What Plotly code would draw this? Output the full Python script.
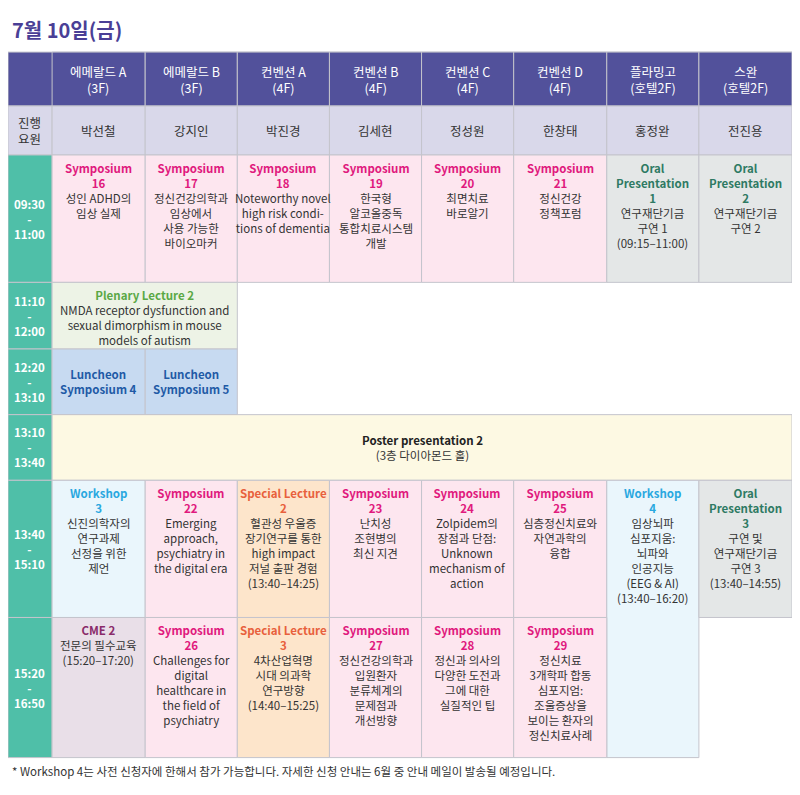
import plotly.graph_objects as go

# column / row edges in page pixels
col_edges = [0, 45, 140, 234, 328, 422, 516, 611, 705, 800]
row_edges = [45, 100, 150, 280, 348, 415, 482, 622, 765]

rooms = ["에메랄드 A<br>(3F)", "에메랄드 B<br>(3F)", "컨벤션 A<br>(4F)", "컨벤션 B<br>(4F)",
         "컨벤션 C<br>(4F)", "컨벤션 D<br>(4F)", "플라밍고<br>(호텔2F)", "스완<br>(호텔2F)"]
staff = ["박선철", "강지인", "박진경", "김세현", "정성원", "한창태", "홍정완", "전진용"]
times = ["09:30<br>-<br>11:00", "11:10<br>-<br>12:00", "12:20<br>-<br>13:10",
         "13:10<br>-<br>13:40", "13:40<br>-<br>15:10", "15:20<br>-<br>16:50"]

styles = {
    "sym": ("#fde6ef", "#e0197d"),
    "oral": ("#e4e7e7", "#2e7a63"),
    "plen": ("#edf3e6", "#5aa845"),
    "lunch": ("#c7daf1", "#1f5aa6"),
    "poster": ("#fdf9e3", "#222222"),
    "ws": ("#eaf6fc", "#29a8e0"),
    "sl": ("#fde5cb", "#e8603c"),
    "cme": ("#e9dfe8", "#8a2b6a"),
}

# (col0, col1, row0, row1, style, title, body)
sessions = [
    (1, 2, 2, 3, "sym", "Symposium<br>16", "성인 ADHD의<br>임상 실제"),
    (2, 3, 2, 3, "sym", "Symposium<br>17", "정신건강의학과<br>임상에서<br>사용 가능한<br>바이오마커"),
    (3, 4, 2, 3, "sym", "Symposium<br>18", "Noteworthy novel<br>high risk condi-<br>tions of dementia"),
    (4, 5, 2, 3, "sym", "Symposium<br>19", "한국형<br>알코올중독<br>통합치료시스템<br>개발"),
    (5, 6, 2, 3, "sym", "Symposium<br>20", "최면치료<br>바로알기"),
    (6, 7, 2, 3, "sym", "Symposium<br>21", "정신건강<br>정책포럼"),
    (7, 8, 2, 3, "oral", "Oral<br>Presentation<br>1", "연구재단기금<br>구연 1<br>(09:15–11:00)"),
    (8, 9, 2, 3, "oral", "Oral<br>Presentation<br>2", "연구재단기금<br>구연 2"),
    (1, 3, 3, 4, "plen", "Plenary Lecture 2", "NMDA receptor dysfunction and<br>sexual dimorphism in mouse<br>models of autism"),
    (1, 2, 4, 5, "lunch", "Luncheon<br>Symposium 4", ""),
    (2, 3, 4, 5, "lunch", "Luncheon<br>Symposium 5", ""),
    (1, 9, 5, 6, "poster", "Poster presentation 2", "(3층 다이아몬드 홀)"),
    (1, 2, 6, 7, "ws", "Workshop<br>3", "신진의학자의<br>연구과제<br>선정을 위한<br>제언"),
    (2, 3, 6, 7, "sym", "Symposium<br>22", "Emerging<br>approach,<br>psychiatry in<br>the digital era"),
    (3, 4, 6, 7, "sl", "Special Lecture<br>2", "혈관성 우울증<br>장기연구를 통한<br>high impact<br>저널 출판 경험<br>(13:40–14:25)"),
    (4, 5, 6, 7, "sym", "Symposium<br>23", "난치성<br>조현병의<br>최신 지견"),
    (5, 6, 6, 7, "sym", "Symposium<br>24", "Zolpidem의<br>장점과 단점:<br>Unknown<br>mechanism of<br>action"),
    (6, 7, 6, 7, "sym", "Symposium<br>25", "심층정신치료와<br>자연과학의<br>융합"),
    (7, 8, 6, 8, "ws", "Workshop<br>4", "임상뇌파<br>심포지움:<br>뇌파와<br>인공지능<br>(EEG & AI)<br>(13:40–16:20)"),
    (8, 9, 6, 7, "oral", "Oral<br>Presentation<br>3", "구연 및<br>연구재단기금<br>구연 3<br>(13:40–14:55)"),
    (1, 2, 7, 8, "cme", "CME 2", "전문의 필수교육<br>(15:20–17:20)"),
    (2, 3, 7, 8, "sym", "Symposium<br>26", "Challenges for<br>digital<br>healthcare in<br>the field of<br>psychiatry"),
    (3, 4, 7, 8, "sl", "Special Lecture<br>3", "4차산업혁명<br>시대 의과학<br>연구방향<br>(14:40–15:25)"),
    (4, 5, 7, 8, "sym", "Symposium<br>27", "정신건강의학과<br>입원환자<br>분류체계의<br>문제점과<br>개선방향"),
    (5, 6, 7, 8, "sym", "Symposium<br>28", "정신과 의사의<br>다양한 도전과<br>그에 대한<br>실질적인 팁"),
    (6, 7, 7, 8, "sym", "Symposium<br>29", "정신치료<br>3개학파 합동<br>심포지엄:<br>조울증상을<br>보이는 환자의<br>정신치료사례"),
]

FONT = "Noto Sans CJK KR"
fig = go.Figure()
shapes, ann = [], []

def rect(x0, x1, y0, y1, fill):
    shapes.append(dict(type="rect", xref="x", yref="y", x0=x0, x1=x1, y0=y0, y1=y1,
                       fillcolor=fill, line=dict(color="#c4c4cc", width=1), layer="below"))

# header row
rect(0, 800, row_edges[0], row_edges[1], "#52519b")
for i, r in enumerate(rooms):
    x0, x1 = col_edges[i + 1], col_edges[i + 2]
    rect(x0, x1, row_edges[0], row_edges[1], "#52519b")
    ann.append(dict(x=(x0 + x1) / 2, y=(row_edges[0] + row_edges[1]) / 2, text=r,
                    font=dict(color="white", size=12.5, family=FONT), showarrow=False))
# staff row
rect(0, 45, row_edges[1], row_edges[2], "#d9d8ea")
ann.append(dict(x=22, y=125, text="진행<br>요원", font=dict(color="#333", size=12.5, family=FONT), showarrow=False))
for i, s in enumerate(staff):
    x0, x1 = col_edges[i + 1], col_edges[i + 2]
    rect(x0, x1, row_edges[1], row_edges[2], "#d9d8ea")
    ann.append(dict(x=(x0 + x1) / 2, y=125, text=s, font=dict(color="#333", size=12.5, family=FONT), showarrow=False))
# time column
for j, t in enumerate(times):
    y0, y1 = row_edges[j + 2], row_edges[j + 3]
    rect(0, 45, y0, y1, "#4fbfa8")
    ann.append(dict(x=22, y=(y0 + y1) / 2, text="<b>" + t + "</b>",
                    font=dict(color="white", size=11.5, family=FONT), showarrow=False))
# sessions
for c0, c1, r0, r1, st, title, body in sessions:
    fill, tc = styles[st]
    x0, x1, y0, y1 = col_edges[c0], col_edges[c1], row_edges[r0], row_edges[r1]
    rect(x0, x1, y0, y1, fill)
    txt = "<b><span style='color:%s'>%s</span></b>" % (tc, title)
    if body:
        txt += "<br>" + body
    if st in ("lunch", "poster"):
        ann.append(dict(x=(x0 + x1) / 2, y=(y0 + y1) / 2, text=txt, showarrow=False,
                        font=dict(color="#333", size=11.5, family=FONT)))
    else:
        ann.append(dict(x=(x0 + x1) / 2, y=y0 + 3, yanchor="top", text=txt, showarrow=False,
                        font=dict(color="#333", size=11.5, family=FONT)))

ann.append(dict(x=2, y=22, xanchor="left", text="<b>7월 10일(금)</b>", showarrow=False,
                font=dict(color="#4a3f96", size=20, family=FONT)))
ann.append(dict(x=2, y=779, xanchor="left",
                text="* Workshop 4는 사전 신청자에 한해서 참가 가능합니다. 자세한 신청 안내는 6월 중 안내 메일이 발송될 예정입니다.",
                showarrow=False, font=dict(color="#333", size=11.5, family=FONT)))

fig.add_trace(go.Scatter(x=[0, 800], y=[0, 795], mode="markers", marker=dict(opacity=0), hoverinfo="skip"))
# page body adds an 8px margin, so the figure is drawn slightly smaller
fig.update_layout(width=784, height=779, margin=dict(l=0, r=0, t=0, b=0),
                  plot_bgcolor="white", paper_bgcolor="white", showlegend=False,
                  shapes=shapes, annotations=ann,
                  xaxis=dict(range=[0, 800], visible=False, fixedrange=True),
                  yaxis=dict(range=[795, 0], visible=False, fixedrange=True))
fig.write_html("out.html")
